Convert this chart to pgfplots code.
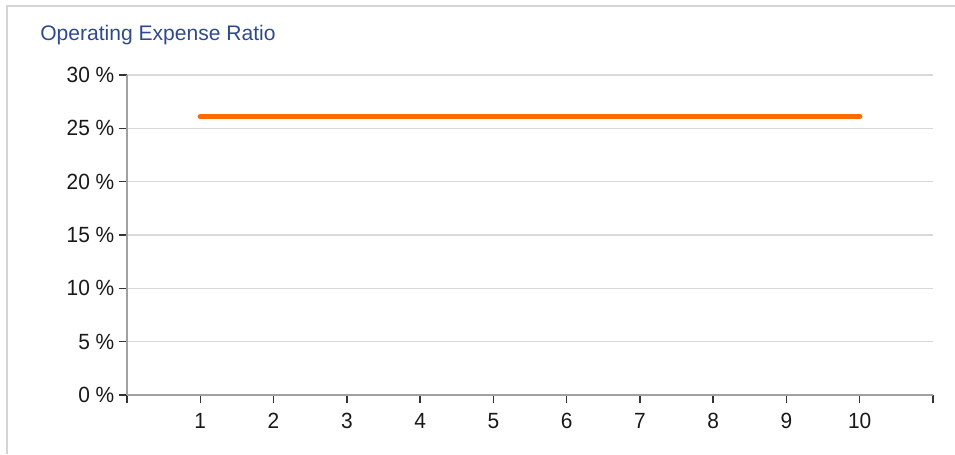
\documentclass[border=0pt]{standalone}
\usepackage{fontspec}
\setmainfont{Liberation Sans}
\newfontfamily\tickfont[FakeStretch=0.95]{Liberation Sans}
\usepackage{pgfplots}
\pgfplotsset{compat=1.18}
\definecolor{titleblue}{HTML}{2F4A8C}
\definecolor{lineorange}{HTML}{FF6A00}
\definecolor{gridgray}{HTML}{D9D9D9}
\definecolor{axisgray}{HTML}{A0A0A0}
\definecolor{framegray}{HTML}{D4D4D4}
\begin{document}
\begin{tikzpicture}[x=0.75pt,y=0.75pt]
\useasboundingbox (-127,-59) rectangle (828,395);
\draw[framegray,line width=1.5pt] (-120,-59) -- (-120,389) -- (828,389);
\begin{axis}[
  at={(0,0)}, anchor=south west,
  scale only axis,
  width=604.5pt, height=240pt,
  xmin=0, xmax=11, ymin=0, ymax=30,
  xtick={0,1,2,3,4,5,6,7,8,9,10,11},
  xticklabels={,1,2,3,4,5,6,7,8,9,10,},
  ytick={0,5,10,15,20,25,30},
  yticklabel={\pgfmathprintnumber{\tick} \%},
  /pgf/number format/assume math mode=true,
  ymajorgrids,
  grid style={gridgray,line width=1.1pt},
  axis x line*=bottom, axis y line*=left,
  axis line style={axisgray,line width=1.2pt},
  tick style={black!80,line width=1.1pt},
  major tick length=6pt,
  xtick align=outside, ytick align=outside,
  tick label style={font=\tickfont\fontsize{16.5pt}{18pt}\selectfont, text=black!90},
  xticklabel style={yshift=-4pt},
  yticklabel style={xshift=0pt},
  clip=false,
]
\addplot[lineorange, line width=4pt, line cap=round] coordinates {
(1,26.1) (2,26.1) (3,26.1) (4,26.1) (5,26.1) (6,26.1) (7,26.1) (8,26.1) (9,26.1) (10,26.1)
};
\end{axis}
\node[anchor=base west, text=titleblue, font=\fontsize{15.8pt}{18pt}\selectfont, inner sep=0] at (-87,354) {Operating Expense Ratio};
\end{tikzpicture}
\end{document}
